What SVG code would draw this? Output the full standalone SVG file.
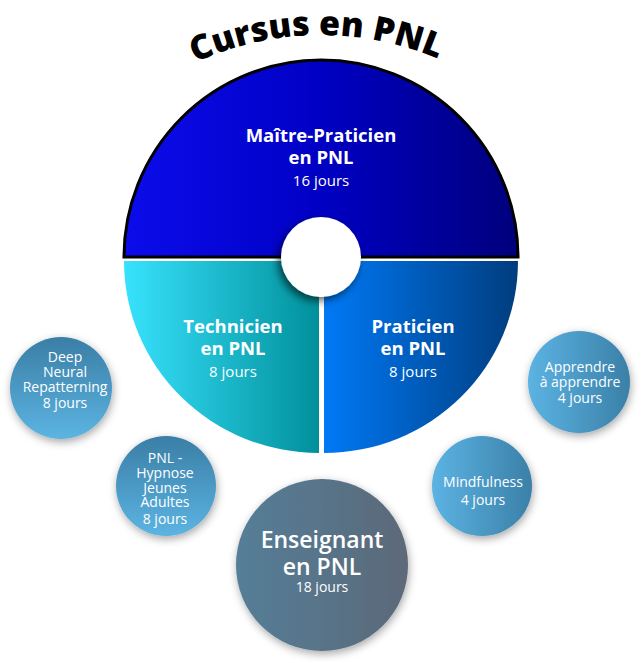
<svg xmlns="http://www.w3.org/2000/svg" xmlns:xlink="http://www.w3.org/1999/xlink" width="644" height="663" viewBox="0 0 644 663">
<defs>
<style>
text{font-family:"Open Sans","Liberation Sans",sans-serif;fill:#fff;text-anchor:middle}
.b{font-weight:700;font-size:18.5px}
.r{font-size:15px}
.s{font-size:14px}
.title{font-weight:800;font-size:34px;fill:#000}
</style>
<linearGradient id="gTop" x1="0" y1="0" x2="1" y2="0"><stop offset="0" stop-color="#0c0cec"/><stop offset="0.5" stop-color="#0000c4"/><stop offset="1" stop-color="#00007c"/></linearGradient>
<linearGradient id="gTech" x1="0" y1="0" x2="1" y2="0"><stop offset="0" stop-color="#38e2fd"/><stop offset="1" stop-color="#00909b"/></linearGradient>
<linearGradient id="gPrat" x1="0" y1="0" x2="1" y2="0"><stop offset="0" stop-color="#0079f6"/><stop offset="1" stop-color="#003d7e"/></linearGradient>
<linearGradient id="gV" x1="0" y1="0" x2="0" y2="1"><stop offset="0" stop-color="#3a7ea6"/><stop offset="1" stop-color="#5cb4e2"/></linearGradient>
<linearGradient id="gH" x1="0" y1="0" x2="1" y2="0"><stop offset="0" stop-color="#5cb3e3"/><stop offset="1" stop-color="#3a80a8"/></linearGradient>
<linearGradient id="gEns" x1="0" y1="0" x2="1" y2="0"><stop offset="0" stop-color="#567e98"/><stop offset="1" stop-color="#5b6979"/></linearGradient>
<filter id="sh" x="-30%" y="-30%" width="160%" height="160%"><feDropShadow dx="1" dy="3" stdDeviation="4" flood-color="#000" flood-opacity="0.35"/></filter>
<filter id="shc" x="-40%" y="-40%" width="180%" height="180%"><feDropShadow dx="-3" dy="4" stdDeviation="4" flood-color="#000" flood-opacity="0.6"/></filter>
<path id="arcT" d="M21,335 A300,300 0 0 1 621,335"/>
</defs>

<g id="title">
<text class="title"><textPath xlink:href="#arcT" href="#arcT" startOffset="49.5%">Cursus en PNL</textPath></text>
</g>

<g id="connectors"></g>

<g id="maitre">
<path d="M124,257 A197,197 0 0 1 518,257 Z" fill="url(#gTop)" stroke="#000" stroke-width="3"/>
<text class="b" x="321" y="142">Maître-Praticien</text>
<text class="b" x="321" y="164">en PNL</text>
<text class="r" x="321" y="186">16 jours</text>
</g>

<g id="technicien">
<path d="M319,261 H124 A195,192 0 0 0 319,453 Z" fill="url(#gTech)"/>
<text class="b" x="233" y="333">Technicien</text>
<text class="b" x="233" y="355">en PNL</text>
<text class="r" x="233" y="377">8 jours</text>
</g>

<g id="praticien">
<path d="M324,261 H518 A194,192 0 0 1 324,453 Z" fill="url(#gPrat)"/>
<text class="b" x="413" y="333">Praticien</text>
<text class="b" x="413" y="355">en PNL</text>
<text class="r" x="413" y="377">8 jours</text>
</g>

<g id="center">
<circle cx="321" cy="257" r="40" fill="#fff" filter="url(#shc)"/>
</g>

<g id="deep">
<circle cx="61" cy="388" r="51" fill="url(#gV)" filter="url(#sh)"/>
<text class="s" x="65" y="362">Deep</text>
<text class="s" x="65" y="377">Neural</text>
<text class="s" x="65" y="392">Repatterning</text>
<text class="s" x="65" y="408">8 jours</text>
</g>

<g id="hypnose">
<circle cx="166" cy="486" r="50" fill="url(#gV)" filter="url(#sh)"/>
<text class="s" x="165" y="463">PNL -</text>
<text class="s" x="165" y="478">Hypnose</text>
<text class="s" x="165" y="493">Jeunes</text>
<text class="s" x="165" y="507">Adultes</text>
<text class="s" x="165" y="524">8 jours</text>
</g>

<g id="enseignant">
<circle cx="322" cy="565" r="86" fill="url(#gEns)" filter="url(#sh)"/>
<text x="322" y="548" style="font-size:23px;font-weight:600">Enseignant</text>
<text x="322" y="575" style="font-size:23px;font-weight:600">en PNL</text>
<text class="s" x="322" y="592">18 jours</text>
</g>

<g id="mindfulness">
<circle cx="482" cy="486" r="50" fill="url(#gH)" filter="url(#sh)"/>
<text class="s" x="483" y="487">Mindfulness</text>
<text class="s" x="483" y="505">4 jours</text>
</g>

<g id="apprendre">
<circle cx="579" cy="382" r="51" fill="url(#gH)" filter="url(#sh)"/>
<text class="s" x="580" y="372">Apprendre</text>
<text class="s" x="580" y="387">à apprendre</text>
<text class="s" x="580" y="403">4 jours</text>
</g>
</svg>
